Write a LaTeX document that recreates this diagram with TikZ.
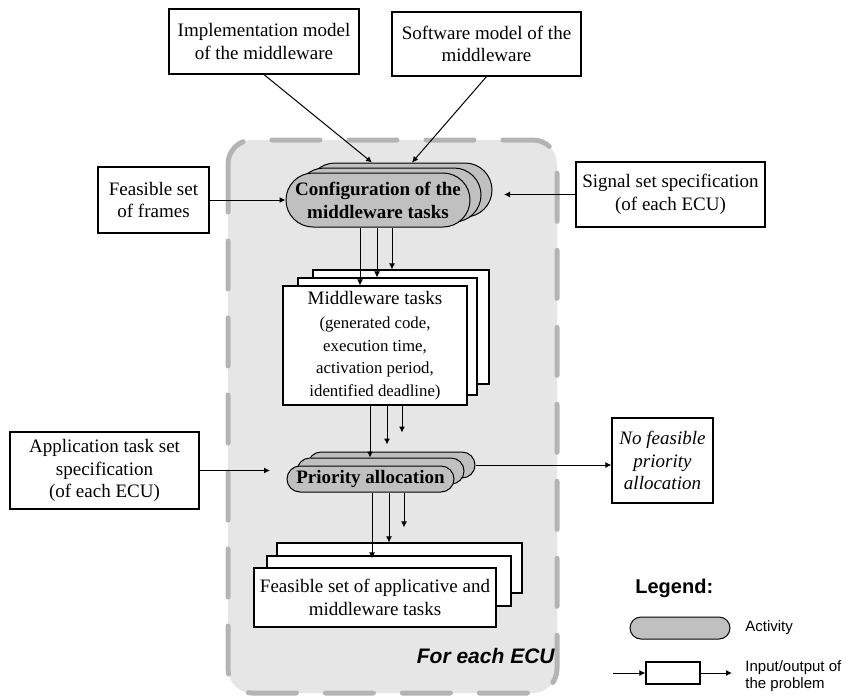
\documentclass[tikz,border=0pt]{standalone}
\usepackage{fontspec}
\setmainfont{Liberation Serif}
\setsansfont{Liberation Sans}
\usetikzlibrary{arrows.meta,calc}
\definecolor{regionfill}{HTML}{E6E6E6}
\definecolor{regiondash}{HTML}{B4B4B4}
\definecolor{actfill}{HTML}{C0C0C0}
\begin{document}
\begin{tikzpicture}[x=0.5pt,y=-0.5pt,
  iobox/.style={draw, line width=0.6pt, fill=white, inner sep=0pt, align=center, font=\fontsize{9.5}{11.25}\selectfont},
  actv/.style={draw, line width=0.5pt, fill=actfill, inner sep=0pt, align=center, font=\fontsize{9.5}{11.5}\selectfont\bfseries},
  flow/.style={line width=0.5pt, -{Latex[length=3pt,width=3pt]}},
  ]
\useasboundingbox (0,0) rectangle (846,697);
% region
\draw[fill=regionfill, draw=regiondash, line width=2.5pt, line cap=round, dash pattern=on 24pt off 14.5pt, rounded corners=12pt] (228,140) rectangle (557,693);
% input/output boxes
\node[iobox, minimum width=95pt, minimum height=32.5pt] (impl) at (264,41.5) {Implementation model\\of the middleware};
\node[iobox, minimum width=94.5pt, minimum height=32pt] (soft) at (486.5,44) {Software model of the\\middleware};
\node[iobox, minimum width=55.5pt, minimum height=33pt] (frames) at (153.5,200) {Feasible set\\of frames};
\node[iobox, minimum width=94.5pt, minimum height=32.5pt] (signal) at (670.5,194.5) {Signal set specification\\(of each ECU)};
\node[iobox, minimum width=94.5pt, minimum height=38.5pt] (app) at (104.5,470.5) {Application task set\\specification\\(of each ECU)};
\node[iobox, minimum width=50.5pt, minimum height=42.5pt, font=\fontsize{9.5}{11.25}\selectfont\itshape] (nofeas) at (662.5,460.5) {No feasible\\priority\\allocation};
% configuration activity
\node[actv, rounded corners=13.5pt, minimum width=92pt, minimum height=27pt] (cfg3) at (400,190) {};
\node[actv, rounded corners=13.5pt, minimum width=92pt, minimum height=27pt] (cfg2) at (389,195) {};
\node[actv, rounded corners=13.5pt, minimum width=92pt, minimum height=27pt] (cfg1) at (378,200) {Configuration of the\\middleware tasks};
% middleware tasks
\node[iobox, minimum width=88pt, minimum height=57pt] (mw3) at (401,327) {};
\node[iobox, minimum width=89.5pt, minimum height=58.5pt] (mw2) at (387.5,336.5) {};
\node[iobox, minimum width=92pt, minimum height=59.5pt] (mw1) at (375,345.5) {Middleware tasks\\[1pt]\fontsize{8.4}{10.5}\selectfont (generated code,\\\fontsize{8.4}{10.5}\selectfont execution time,\\\fontsize{8.4}{10.5}\selectfont activation period,\\\fontsize{8.4}{10.5}\selectfont identified deadline)};
% priority allocation
\node[actv, rounded corners=6.5pt, minimum width=83.5pt, minimum height=13pt] (pa3) at (391.5,465) {};
\node[actv, rounded corners=6.5pt, minimum width=83.5pt, minimum height=13pt] (pa2) at (380.5,471) {};
\node[actv, rounded corners=6.5pt, minimum width=83.5pt, minimum height=13pt] (pa1) at (370.5,479) {Priority allocation};
% feasible set
\node[iobox, minimum width=122.5pt, minimum height=25pt] (fs3) at (399.5,568) {};
\node[iobox, minimum width=122pt, minimum height=25pt] (fs2) at (389,581) {};
\node[iobox, minimum width=121pt, minimum height=29.5pt] (fs1) at (375,597.5) {Feasible set of applicative and\\middleware tasks};
% region label
\node[anchor=base east, inner sep=0pt, font=\fontsize{10.5}{12}\selectfont\sffamily\bfseries\itshape] (foreach) at (555,663) {For each ECU};
% connectors
\draw[flow] (impl.south) -- ($(cfg3.north)+(-28,0)$);
\draw[flow] (soft.south) -- ($(cfg3.north)+(12,0)$);
\draw[flow] (frames.east) -- (cfg1.west);
\coordinate (sigend) at (504,194.5);
\draw[flow] (signal.west) -- (sigend);
\draw[flow] ($(cfg1.south)+(-18,0)$) coordinate (c1) -- (c1 |- mw1.north);
\draw[flow] ($(cfg1.south)+(-1,0)$) coordinate (c2) -- (c2 |- mw2.north);
\draw[flow] ($(cfg1.south)+(14,0)$) coordinate (c3) -- (c3 |- mw3.north);
\draw[flow] ($(mw1.south)+(-5,0)$) coordinate (d1) -- (d1 |- pa2.north);
\draw[flow] ($(mw1.south)+(12,0)$) coordinate (d2) -- ($(d2 |- pa3.north)+(0,-7)$);
\draw[flow] ($(mw1.south)+(27,0)$) coordinate (d3) -- ($(d3 |- pa3.north)+(0,-19)$);
\coordinate (append) at (270,470.5);
\draw[flow] (app.east) -- (append);
\draw[flow] (pa3.east) -- (pa3.east -| nofeas.west);
\draw[flow] ($(pa1.south)+(1.5,0)$) coordinate (e1) -- ($(e1 |- fs2.north)+(0,3)$);
\draw[flow] ($(pa1.south)+(18.5,0)$) coordinate (e2) -- (e2 |- fs3.north);
\draw[flow] ($(pa1.south)+(33.5,0)$) coordinate (e3) -- ($(e3 |- fs3.north)+(0,-15)$);
% legend
\node[anchor=west, inner sep=0pt, font=\fontsize{10}{12}\selectfont\sffamily\bfseries] (legend) at (635,588) {Legend:};
\node[actv, rounded corners=5.5pt, minimum width=50pt, minimum height=11pt] (legact) at (680,628) {};
\node[anchor=west, inner sep=0pt, font=\fontsize{7.5}{8.5}\selectfont\sffamily] (legactlbl) at (745,628) {Activity};
\node[iobox, minimum width=27pt, minimum height=11pt] (legio) at (673,673) {};
\coordinate (legin) at (613,673);
\coordinate (legout) at (732,673);
\draw[flow] (legin) -- (legio.west);
\draw[flow] (legio.east) -- (legout);
\node[anchor=west, inner sep=0pt, align=left, font=\fontsize{7.5}{8.2}\selectfont\sffamily] (legiolbl) at (745,676) {Input/output of\\the problem};
\end{tikzpicture}
\end{document}
